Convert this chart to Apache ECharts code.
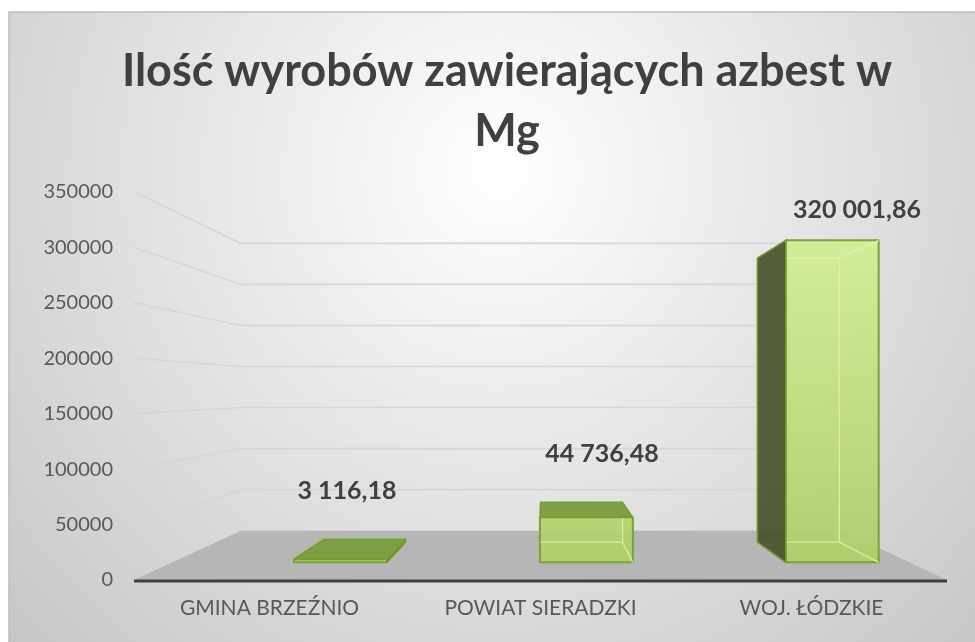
<!DOCTYPE html>
<html>
<head>
<meta charset="utf-8">
<script src="https://cdn.jsdelivr.net/npm/echarts@6/dist/echarts.min.js"></script>
<style>
html,body{margin:0;padding:0;background:#fff;}
#chart{width:975px;height:642px;}
</style>
</head>
<body>
<div id="chart"></div>
<script>
// ---- data ----
const titleText = 'Ilość wyrobów zawierających azbest w\nMg';
const categories = ['GMINA BRZEŹNIO', 'POWIAT SIERADZKI', 'WOJ. ŁÓDZKIE'];
const values = [3116.18, 44736.48, 320001.86];
const yTicks = [50000, 100000, 150000, 200000, 250000, 300000, 350000];
const yMin = 0, yMax = 350000, yStep = 50000;

// ---- 3D look parameters (style) ----
const VP_SHIFT = 0.017;     // vanishing point x offset (fraction of band) from middle category
const VP_VALUE = 171000;    // vanishing point height expressed in value units
const WALL_S = 0.74;        // depth of back wall
const FRONT_S = 0.907;      // depth of bar front face
const BACK_S = 0.80;        // depth of bar back face
const BAR_SHIFT = 0.185;    // bar center shift in bands
const BAR_HALF = 0.189;     // bar half width in bands
const LABEL_SHIFT = 0.24, LABEL_S = 0.941, LABEL_UP = 48;

function plFormat(v) {
  const parts = v.toFixed(2).split('.');
  return parts[0].replace(/\B(?=(\d{3})+(?!\d))/g, ' ') + ',' + parts[1];
}
function proj(p, s, vp) {
  return [vp[0] + (p[0] - vp[0]) * s, vp[1] + (p[1] - vp[1]) * s];
}
function geom(api) {
  const band = api.size([1, 0])[0];
  const c0 = api.coord([0, 0]);
  const left = c0[0] - band / 2;
  const right = api.coord([categories.length - 1, 0])[0] + band / 2;
  const mid = Math.floor(categories.length / 2);
  const vp = [api.coord([mid, 0])[0] + VP_SHIFT * band, api.coord([0, VP_VALUE])[1]];
  return { band, left, right, base: c0[1], vp };
}

const chart = echarts.init(document.getElementById('chart'));

const floorSeries = {
  type: 'custom',
  coordinateSystem: 'cartesian2d',
  silent: true,
  z: 1,
  clip: false,
  data: [[0, 0]],
  renderItem: function (params, api) {
    const g = geom(api);
    const fl = [g.left, g.base], fr = [g.right, g.base];
    const bl = proj(fl, WALL_S, g.vp), br = proj(fr, WALL_S, g.vp);
    return {
      type: 'group',
      children: [
        { type: 'polygon', shape: { points: [fl, fr, br, bl] }, style: { fill: '#b6b6b6' } },
        { type: 'line', shape: { x1: g.left, y1: g.base + 1, x2: g.right, y2: g.base + 1 },
          style: { stroke: '#404040', lineWidth: 3 } }
      ]
    };
  }
};

const gridSeries = {
  type: 'custom',
  coordinateSystem: 'cartesian2d',
  silent: true,
  z: 1,
  clip: false,
  data: yTicks.map(v => [0, v]),
  renderItem: function (params, api) {
    const g = geom(api);
    const v = api.value(1);
    const y = api.coord([0, v])[1];
    const fl = [g.left, y], fr = [g.right, y];
    const bl = proj(fl, WALL_S, g.vp), br = proj(fr, WALL_S, g.vp);
    return {
      type: 'polyline',
      shape: { points: [fl, bl, br] },
      style: { stroke: '#d6d6d6', lineWidth: 1.6, fill: null }
    };
  }
};

const barSeries = {
  type: 'custom',
  coordinateSystem: 'cartesian2d',
  silent: true,
  z: 3,
  clip: false,
  data: values.map((v, i) => [i, v]),
  renderItem: function (params, api) {
    const g = geom(api);
    const i = api.value(0), v = api.value(1);
    const c = api.coord([i, 0]);
    const topY = api.coord([i, v])[1];
    const cx = c[0] + BAR_SHIFT * g.band, hw = BAR_HALF * g.band;
    const FL = [cx - hw, g.base], FR = [cx + hw, g.base], TL = [cx - hw, topY], TR = [cx + hw, topY];
    const f = p => proj(p, FRONT_S, g.vp), b = p => proj(p, BACK_S, g.vp);
    const fTL = f(TL), fTR = f(TR), fFL = f(FL), fFR = f(FR);
    const bTL = b(TL), bTR = b(TR), bFL = b(FL), bFR = b(FR);
    const yTopAll = proj([0, api.coord([0, yMax])[1]], FRONT_S, g.vp)[1];
    const grad = new echarts.graphic.LinearGradient(0, yTopAll, 0, fFL[1], [
      { offset: 0, color: 'rgba(214,240,152,0.95)' },
      { offset: 1, color: 'rgba(176,206,108,0.95)' }
    ], true);
    const children = [];
    children.push({ type: 'polygon', shape: { points: [fTL, fTR, fFR, fFL] },
      style: { fill: grad, stroke: '#79a332', lineWidth: 2, lineJoin: 'round' } });
    children.push({ type: 'polyline', shape: { points: [bTL, bTR, bFR, bFL] },
      style: { stroke: 'rgba(222,244,165,0.85)', lineWidth: 1.3, fill: null } });
    children.push({ type: 'line', shape: { x1: bTR[0], y1: bTR[1], x2: fTR[0], y2: fTR[1] },
      style: { stroke: 'rgba(222,244,165,0.85)', lineWidth: 1.3 } });
    children.push({ type: 'line', shape: { x1: bFR[0], y1: bFR[1], x2: fFR[0], y2: fFR[1] },
      style: { stroke: 'rgba(222,244,165,0.85)', lineWidth: 1.3 } });
    if (fTL[0] > g.vp[0]) {
      children.push({ type: 'polygon', shape: { points: [fTL, bTL, bFL, fFL] },
        style: { fill: 'rgba(70,82,44,0.92)', stroke: '#6f9a2c', lineWidth: 1.5, lineJoin: 'round' } });
    } else if (fTR[0] < g.vp[0]) {
      children.push({ type: 'polygon', shape: { points: [fTR, bTR, bFR, fFR] },
        style: { fill: 'rgba(98,128,46,0.95)', stroke: '#6f9a2c', lineWidth: 1.5, lineJoin: 'round' } });
    }
    if (fTL[1] > g.vp[1]) {
      children.push({ type: 'polygon', shape: { points: [fTL, fTR, bTR, bTL] },
        style: { fill: 'rgba(124,158,66,0.97)', stroke: '#74a02c', lineWidth: 1.5, lineJoin: 'round' } });
    }
    const lx = proj([c[0] + LABEL_SHIFT * g.band, 0], LABEL_S, g.vp)[0];
    const ly = bTL[1] - LABEL_UP;
    children.push({ type: 'text', style: { text: plFormat(v), x: lx, y: ly, align: 'center', verticalAlign: 'middle',
      fill: '#404040', font: 'bold 25px Lato' } });
    return { type: 'group', children };
  }
};

const option = {
  backgroundColor: '#ffffff',
  animation: false,
  graphic: {
    elements: [{
      type: 'rect', z: -100, silent: true,
      shape: { x: 9, y: 12, width: 980, height: 640 },
      style: {
        fill: { type: 'radial', x: 0.5, y: 0.25, r: 1.1,
          colorStops: [{ offset: 0, color: '#ffffff' }, { offset: 1, color: '#c4c4c4' }] },
        stroke: '#bdbdbd', lineWidth: 1.5
      }
    }]
  },
  title: {
    text: titleText,
    left: 502, top: 36, textAlign: 'center',
    textStyle: { fontFamily: 'Lato', fontWeight: 'bold', fontSize: 45, color: '#404040', lineHeight: 60 }
  },
  grid: { left: 134, right: 28, top: 191.7, bottom: 62, containLabel: false, outerBoundsMode: 'none' },
  xAxis: {
    type: 'category', data: categories,
    axisLine: { show: false }, axisTick: { show: false }, splitLine: { show: false },
    axisLabel: { color: '#595959', fontFamily: 'Lato', fontSize: 21, margin: 18 }
  },
  yAxis: {
    type: 'value', min: yMin, max: yMax, interval: yStep,
    axisLine: { show: false }, axisTick: { show: false }, splitLine: { show: false },
    axisLabel: { color: '#595959', fontFamily: 'Lato', fontSize: 20, margin: 21,
      formatter: function (v) { return String(v); } }
  },
  series: [floorSeries, gridSeries, barSeries]
};
chart.setOption(option);
</script>
</body>
</html>
